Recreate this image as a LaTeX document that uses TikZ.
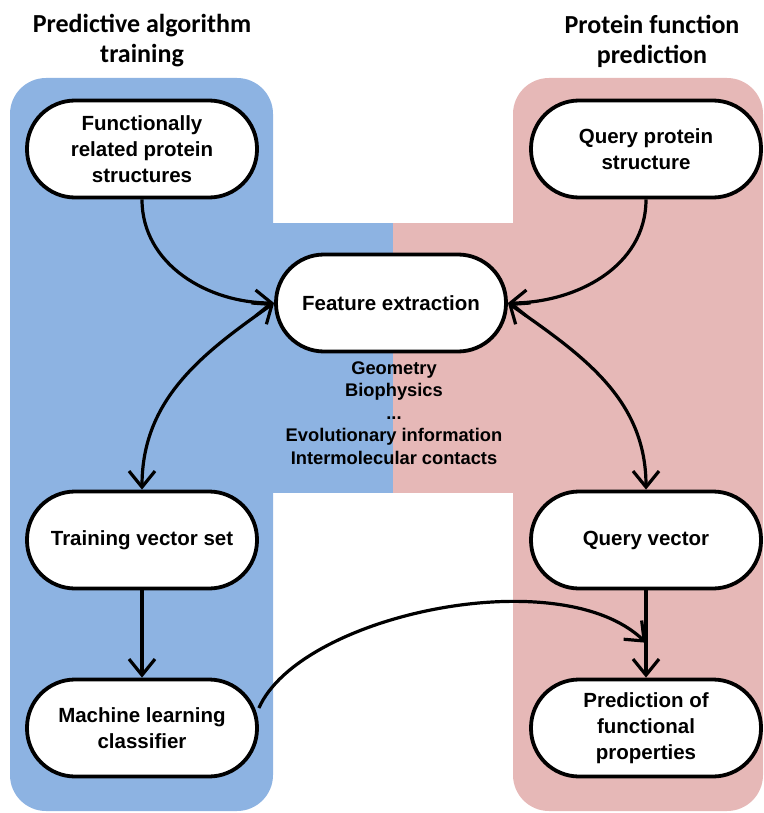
\documentclass[tikz,border=0pt]{standalone}
\usepackage{fontspec}
\setmainfont{Liberation Sans}
\newfontfamily\titlefont{Carlito}
\usetikzlibrary{arrows.meta,calc}
\definecolor{leftblue}{RGB}{141,179,226}
\definecolor{rightpink}{RGB}{230,184,183}
\tikzset{
  stadium/.style={draw=black, line width=3.8pt, fill=white, rectangle, rounded corners=48pt,
    minimum width=230pt, minimum height=97pt, align=center, inner sep=2pt,
    font=\bfseries\fontsize{20.5}{26}\selectfont},
  paneltitle/.style={align=center, font=\titlefont\bfseries\fontsize{26}{30}\selectfont},
  featlist/.style={align=center, font=\bfseries\fontsize{18.3}{22.5}\selectfont},
  barb/.tip={Straight Barb[length=16pt,width=26pt,line width=3.2pt]},
  conn/.style={line width=3.2pt, -barb},
  dconn/.style={line width=3.2pt, barb-barb}
}
\begin{document}
\begin{tikzpicture}[x=1pt,y=-1pt]
\useasboundingbox (0,0) rectangle (763,813);
% backgrounds
\fill[leftblue] (272,223) rectangle (394,493);
\fill[rightpink] (393,223) rectangle (514,493);
\fill[leftblue, rounded corners=36pt] (10,78) rectangle (273,811);
\fill[rightpink, rounded corners=36pt] (513,78) rectangle (763,811);
% titles
\node[paneltitle] (t1) at (142,41) {Predictive algorithm\\training};
\node[paneltitle] (t2) at (652,41) {Protein function\\prediction};
% nodes
\node[stadium] (fr) at (142,149) {Functionally\\related protein\\structures};
\node[stadium] (qp) at (646,149) {Query protein\\structure};
\node[stadium] (fe) at (391,303) {Feature extraction};
\node[featlist] (fl) at (394,413) {Geometry\\Biophysics\\...\\Evolutionary information\\Intermolecular contacts};
\node[stadium] (tv) at (142,540) {Training vector set};
\node[stadium] (qv) at (646,540) {Query vector};
\node[stadium] (ml) at (142,728) {Machine learning\\classifier};
\node[stadium] (pr) at (646,728) {Prediction of\\functional\\properties};
% connectors
\draw[conn] (fr.south) to[out=-90,in=180] (fe.west);
\draw[conn] (qp.south) to[out=-90,in=0] (fe.east);
\draw[dconn] (fe.west) to[out=215,in=90] (tv.north);
\draw[dconn] (fe.east) to[out=-35,in=90] (qv.north);
\draw[conn] (tv.south) -- (ml.north);
\draw[conn] (qv.south) -- (pr.north);
\coordinate (tip) at ($(qv.south)!0.6!(pr.north)$);
\draw[conn] ($(ml.east)+(0,-20)$) .. controls (300,615) and (560,560) .. (tip);
\end{tikzpicture}
\end{document}
